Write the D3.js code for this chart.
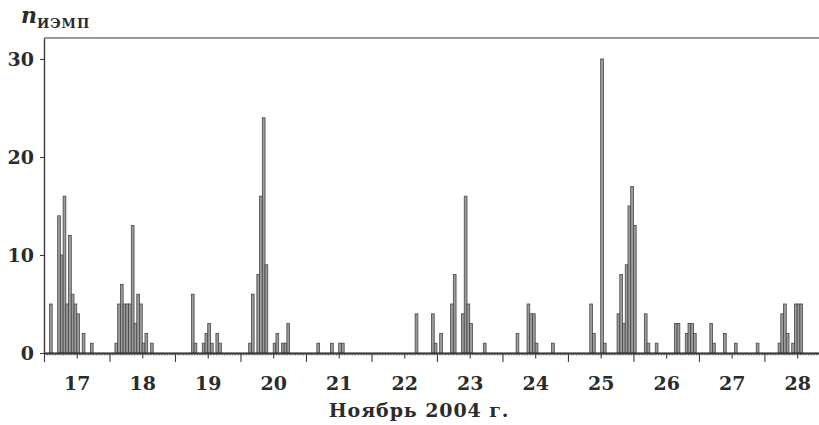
<!DOCTYPE html>
<html><head><meta charset="utf-8">
<script src="https://cdn.jsdelivr.net/npm/d3@7"></script>
<style>
html,body{margin:0;padding:0;background:#fff;}
svg{display:block;}
text{font-family:"DejaVu Serif",serif;font-weight:bold;fill:#2b2b2b;}
</style></head><body>
<svg id="chart" width="819" height="425"></svg>
<script>
// Hour offsets from 17 Nov 2004 00:00 and number of events (ИЭМП) in that hour
const eventHours = [2,5,6,7,8,9,10,11,12,14,17,
  26,27,28,29,30,31,32,33,34,35,36,37,39,
  54,55,58,59,60,61,63,64,
  75,76,78,79,80,81,84,85,87,88,89,
  100,105,108,109,
  136,142,143,145,149,150,153,154,155,156,161,
  173,177,178,179,180,186,
  200,201,204,205,210,211,212,213,214,215,216,220,221,224,
  231,232,235,236,237,238,244,245,249,253,261,
  269,270,271,272,274,275,276,277];
const eventCounts = [5,14,10,16,5,12,6,5,4,2,1,
  1,5,7,5,5,5,13,3,6,5,1,2,1,
  6,1,1,2,3,1,2,1,
  1,6,8,16,24,9,1,2,1,1,3,
  1,1,1,1,
  4,4,1,2,5,8,4,16,5,3,1,
  2,5,4,4,1,1,
  5,2,30,1,4,8,3,9,15,17,13,4,1,1,
  3,3,2,3,3,2,3,1,2,1,1,
  1,4,5,2,1,5,5,5];
const dayLabels = ["17","18","19","20","21","22","23","24","25","26","27","28"];
const yTickValues = [0,10,20,30];
const xTitle = "Ноябрь 2004 г.";
const yTitleMain = "n";
const yTitleSub = "ИЭМП";

const svg = d3.select("#chart");
const x = d3.scaleLinear().domain([0, 284]).range([44, 819]);
const y = d3.scaleLinear().domain([0, 32.14]).range([353, 38]);
const axisColor = "#3a3a3a";

// top frame line
svg.append("line").attr("x1", x(0)).attr("x2", x(284)).attr("y1", y(32.14)).attr("y2", y(32.14))
  .attr("stroke", "#777").attr("stroke-width", 1.6);

// bars
const data = eventHours.map((h, i) => ({h, v: eventCounts[i]}));
svg.append("g").selectAll("rect").data(data).join("rect")
  .attr("x", d => x(d.h))
  .attr("width", d => x(d.h + 1) - x(d.h))
  .attr("y", d => y(d.v))
  .attr("height", d => y(0) - y(d.v))
  .attr("fill", "#9c9c9c")
  .attr("stroke", "#474747")
  .attr("stroke-width", 0.8);

// x axis: hourly minor ticks
const hours = d3.range(0, 285);
const gMinor = svg.append("g").attr("transform", `translate(0,${y(0)})`)
  .call(d3.axisBottom(x).tickValues(hours).tickSize(2.5).tickSizeOuter(0).tickFormat(""));
gMinor.selectAll(".tick line").attr("stroke", "#555").attr("stroke-width", 0.7);
// midnight ticks
const gMid = svg.append("g").attr("transform", `translate(0,${y(0)})`)
  .call(d3.axisBottom(x).tickValues(d3.range(0, 285, 24)).tickSize(9).tickSizeOuter(0).tickFormat(""));
gMid.selectAll(".tick line").attr("stroke", axisColor).attr("stroke-width", 1.1);
// noon ticks with day labels
const gNoon = svg.append("g").attr("transform", `translate(0,${y(0)})`)
  .call(d3.axisBottom(x).tickValues(dayLabels.map((d, i) => 12 + 24 * i)).tickSize(5.5).tickSizeOuter(0)
    .tickPadding(18).tickFormat((d, i) => dayLabels[i]));
gNoon.selectAll(".tick line").attr("stroke", axisColor).attr("stroke-width", 1.1);
[gMinor, gMid, gNoon].forEach(g => {
  g.select(".domain").attr("stroke", axisColor).attr("stroke-width", 1.4);
  g.selectAll("text").attr("font-family", "DejaVu Serif").attr("font-weight", "bold")
    .attr("font-size", 19).attr("fill", "#2b2b2b");
});

// y axis
const gy = svg.append("g").attr("transform", `translate(${x(0)},0)`)
  .call(d3.axisLeft(y).tickValues(yTickValues).tickSize(4).tickSizeOuter(0).tickPadding(6));
gy.select(".domain").attr("stroke", axisColor).attr("stroke-width", 1.4);
gy.selectAll(".tick line").attr("stroke", axisColor).attr("stroke-width", 1.1);
gy.selectAll("text").attr("font-family", "DejaVu Serif").attr("font-weight", "bold")
  .attr("font-size", 19).attr("fill", "#2b2b2b");

// titles
svg.append("text").attr("x", 419).attr("y", 417).attr("text-anchor", "middle")
  .attr("font-size", 19).style("letter-spacing", "0.9px").text(xTitle);
svg.append("text").attr("x", 21).attr("y", 23).attr("font-size", 22).attr("font-style", "italic")
  .text(yTitleMain);
svg.append("text").attr("x", 37).attr("y", 28).attr("font-size", 13).style("letter-spacing", "1px")
  .attr("font-weight", "normal").text(yTitleSub);
</script>
</body></html>
